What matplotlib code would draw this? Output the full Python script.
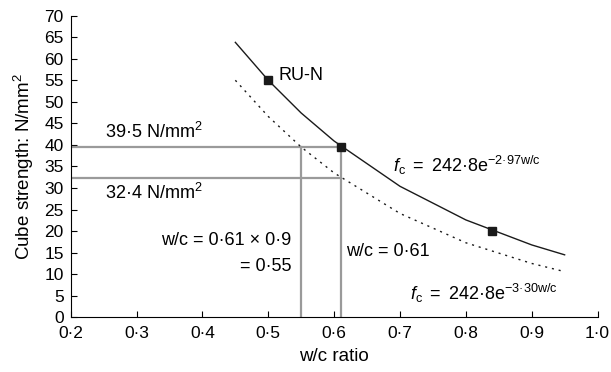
import numpy as np
import matplotlib.pyplot as plt

plt.rcParams['font.family'] = ['Liberation Sans', 'DejaVu Sans']
plt.rcParams['mathtext.fontset'] = 'custom'
plt.rcParams['mathtext.rm'] = 'Liberation Sans'
plt.rcParams['mathtext.it'] = 'Liberation Sans:italic'

# strength curves (w/c ratio vs cube strength, N/mm2)
wc = [0.45, 0.5, 0.55, 0.6, 0.7, 0.8, 0.9, 0.95]
fc_297 = [63.8, 55.0, 47.4, 40.9, 30.4, 22.6, 16.8, 14.5]
fc_330 = [55.0, 46.6, 39.5, 33.5, 24.1, 17.3, 12.5, 10.6]

# RU-N test points
pts_wc = [0.5, 0.61, 0.84]
pts_fc = [55.0, 39.5, 20.0]

wc_target = 0.61
wc_reduced = 0.55
fc_target = 39.5
fc_reduced = 32.4

xticks = [0.2, 0.3, 0.4, 0.5, 0.6, 0.7, 0.8, 0.9, 1.0]
xticklabels = ['0·2', '0·3', '0·4', '0·5', '0·6', '0·7', '0·8', '0·9', '1·0']
yticks = list(range(0, 75, 5))

fig = plt.figure(figsize=(6.11, 3.72), dpi=100)
ax = fig.add_axes([0.1157, 0.147, 0.8623, 0.811])

grey = '#9a9a9a'
ax.plot([0.2, wc_target], [fc_target, fc_target], color=grey, lw=1.6)
ax.plot([0.2, wc_target], [fc_reduced, fc_reduced], color=grey, lw=1.6)
ax.plot([wc_target, wc_target], [0, fc_target], color=grey, lw=1.6)
ax.plot([wc_reduced, wc_reduced], [0, fc_target], color=grey, lw=1.6)

ax.plot(wc, fc_297, color='#1a1a1a', lw=1.0)
ax.plot(wc, fc_330, color='#1a1a1a', lw=1.0, linestyle=(0, (1.5, 3.5)))
ax.plot(pts_wc, pts_fc, 's', color='#1a1a1a', ms=5.5, linestyle='none')

fs = 13
ax.text(0.252, 43.1, '39·5 N/mm$^2$', fontsize=fs, va='center')
ax.text(0.252, 28.8, '32·4 N/mm$^2$', fontsize=fs, va='center')
ax.text(0.515, 56.0, 'RU-N', fontsize=fs, va='center')
ax.text(0.689, 35.3, r'$\mathit{f}_{\mathrm{c}}\ =\ \mathrm{242·8e}^{-\mathrm{2·97w/c}}$',
        fontsize=fs, va='center')
ax.text(0.715, 5.6, r'$\mathit{f}_{\mathrm{c}}\ =\ \mathrm{242·8e}^{-\mathrm{3·30w/c}}$',
        fontsize=fs, va='center')
ax.text(0.618, 15.2, 'w/c = 0·61', fontsize=fs, va='center')
ax.text(0.535, 17.9, 'w/c = 0·61 × 0·9', fontsize=fs, va='center', ha='right')
ax.text(0.535, 11.9, '= 0·55', fontsize=fs, va='center', ha='right')

ax.set_xlim(0.2, 1.0)
ax.set_ylim(0, 70)
ax.set_xticks(xticks)
ax.set_xticklabels(xticklabels)
ax.set_yticks(yticks)
ax.tick_params(direction='in', length=4, labelsize=12.5, width=0.8)
ax.tick_params(axis='x', pad=6)
ax.tick_params(axis='y', pad=5)
ax.spines['top'].set_visible(False)
ax.spines['right'].set_visible(False)
ax.set_xlabel('w/c ratio', fontsize=13.5, labelpad=5)
ax.set_ylabel('Cube strength: N/mm$^2$', fontsize=13.5, labelpad=6)

fig.savefig('out.png', dpi=100)
